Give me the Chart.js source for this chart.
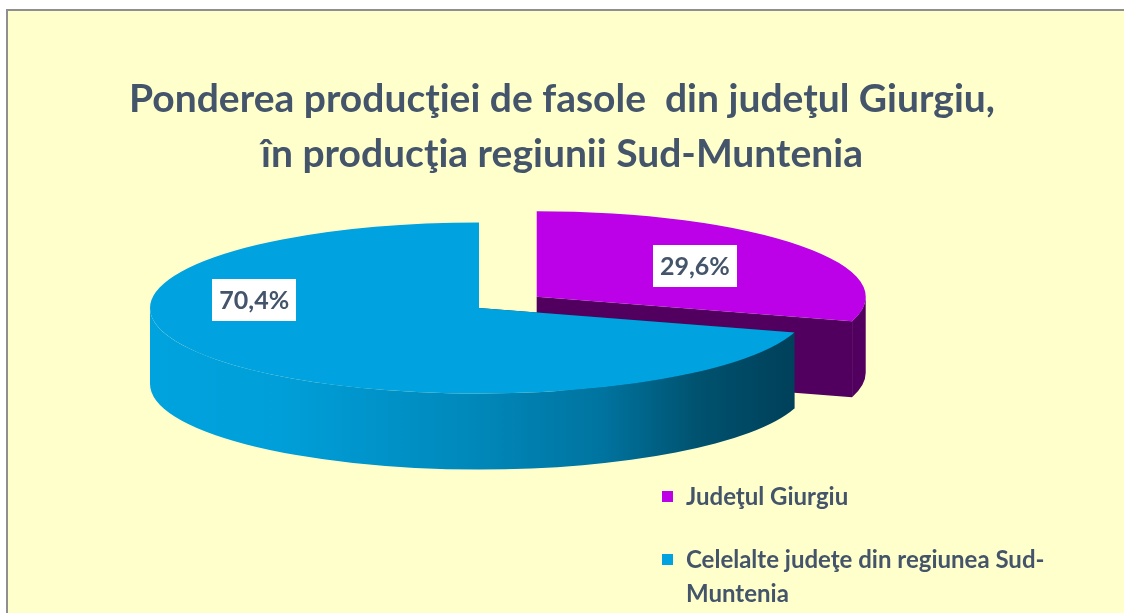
<!DOCTYPE html>
<html>
<head>
<meta charset="utf-8">
<script src="https://cdn.jsdelivr.net/npm/chart.js@4.4.0/dist/chart.umd.min.js"></script>
<style>
    html, body { margin: 0; padding: 0; background: #ffffff; }
    #frame {
        position: absolute; left: 6px; top: 9px; right: 0; bottom: 0;
        background: #FFFFCC;
        border-left: 2px solid #8f8f8f;
        border-top: 2px solid #8f8f8f;
    }
    #wrap { position: absolute; left: 0; top: 0; width: 1124px; height: 613px; }
</style>
</head>
<body>
<div id="frame"></div>
<div id="wrap"><canvas id="pie" width="1124" height="613"></canvas></div>
<script>
// Chart data
const categories = ['Judeţul Giurgiu', 'Celelalte judeţe din regiunea Sud-Muntenia'];
const shares = [29.6, 70.4];
const valueLabels = ['29,6%', '70,4%'];
const titleLines = ['Ponderea producţiei de fasole  din judeţul Giurgiu,', 'în producţia regiunii Sud-Muntenia'];

const topColors = ['#BC00E8', '#00A2DF'];
const TEXT = '#44546A';
const FONT = 'Lato, "Open Sans", sans-serif';

// Geometry of one slice after tilt and explosion
function sliceFrame(arc, i, o) {
    const mid = (arc.startAngle + arc.endAngle) / 2;
    const ex = o.explode[i] || 0;
    return {
        cx: o.center.x + Math.cos(mid) * ex,
        cy: o.center.y + Math.sin(mid) * ex * o.tilt,
        rx: arc.outerRadius,
        ry: arc.outerRadius * o.tilt
    };
}

// Front half (0..PI) part of an angle range
function frontPart(s, e) {
    for (const base of [0, 2 * Math.PI, -2 * Math.PI]) {
        const a = Math.max(s, base), b = Math.min(e, base + Math.PI);
        if (b > a) return [a, b];
    }
    return null;
}

function sideFill(ctx, i, f, a, b) {
    if (i === 1) {
        const x0 = f.cx + Math.cos(b) * f.rx, x1 = f.cx + Math.cos(a) * f.rx;
        const g = ctx.createLinearGradient(x0, 0, x1, 0);
        g.addColorStop(0, '#00A3DE');
        g.addColorStop(0.2, '#009FD9');
        g.addColorStop(0.5, '#0088BA');
        g.addColorStop(0.7, '#0074A0');
        g.addColorStop(0.85, '#00526F');
        g.addColorStop(1, '#00405A');
        return g;
    }
    return '#52005F';
}

const pie3d = {
    id: 'pie3d',
    beforeDatasetsDraw(chart, args, o) {
        const ctx = chart.ctx;
        const arcs = chart.getDatasetMeta(0).data;
        const depth = o.depth;

        // side faces, back slice first
        arcs.forEach((arc, i) => {
            const f = sliceFrame(arc, i, o);
            [arc.startAngle, arc.endAngle].forEach(a => {
                const px = f.cx + Math.cos(a) * f.rx, py = f.cy + Math.sin(a) * f.ry;
                ctx.beginPath();
                ctx.moveTo(f.cx, f.cy);
                ctx.lineTo(px, py);
                ctx.lineTo(px, py + depth);
                ctx.lineTo(f.cx, f.cy + depth);
                ctx.closePath();
                ctx.fillStyle = o.edgeColors[i];
                ctx.fill();
            });
            const part = frontPart(arc.startAngle, arc.endAngle);
            if (part) {
                const [a, b] = part;
                ctx.beginPath();
                ctx.ellipse(f.cx, f.cy, f.rx, f.ry, 0, a, b);
                ctx.lineTo(f.cx + Math.cos(b) * f.rx, f.cy + Math.sin(b) * f.ry + depth);
                ctx.ellipse(f.cx, f.cy + depth, f.rx, f.ry, 0, b, a, true);
                ctx.closePath();
                ctx.fillStyle = sideFill(ctx, i, f, a, b);
                ctx.fill();
            }
        });

        // top faces, drawn by the arc elements themselves
        arcs.forEach((arc, i) => {
            const f = sliceFrame(arc, i, o);
            ctx.save();
            ctx.translate(f.cx, f.cy);
            ctx.scale(1, o.tilt);
            ctx.translate(-arc.x, -arc.y);
            arc.draw(ctx);
            ctx.restore();
        });

        // value labels in white boxes
        ctx.save();
        ctx.font = 'bold 25px ' + FONT;
        ctx.textAlign = 'center';
        ctx.textBaseline = 'middle';
        arcs.forEach((arc, i) => {
            const f = sliceFrame(arc, i, o);
            const ang = o.labelAngles[i] != null ? o.labelAngles[i] * Math.PI / 180 : (arc.startAngle + arc.endAngle) / 2;
            const r = o.labelRadius[i];
            const lx = f.cx + Math.cos(ang) * f.rx * r;
            const ly = f.cy + Math.sin(ang) * f.ry * r;
            ctx.fillStyle = '#ffffff';
            ctx.fillRect(Math.round(lx - 42), Math.round(ly - 21), 84, 42);
            ctx.fillStyle = TEXT;
            ctx.fillText(valueLabels[i], lx, ly + 1);
        });
        ctx.restore();
        return false;
    },
    afterDraw(chart, args, o) {
        // legend at the lower right
        const ctx = chart.ctx;
        const lg = o.legend;
        ctx.save();
        ctx.font = 'bold 24px ' + FONT;
        ctx.textBaseline = 'middle';
        let y = lg.y;
        chart.data.labels.forEach((label, i) => {
            ctx.fillStyle = chart.data.datasets[0].backgroundColor[i];
            ctx.fillRect(lg.x, y - 6, 11, 11);
            // wrap on spaces and after hyphens
            const words = label.replace(/-/g, '-\u0000').split(/ |\u0000/);
            const lines = [];
            let line = '';
            words.forEach(w => {
                const sep = line === '' || line.endsWith('-') ? '' : ' ';
                const test = line + sep + w;
                if (line !== '' && ctx.measureText(test).width > lg.maxWidth) {
                    lines.push(line);
                    line = w;
                } else {
                    line = test;
                }
            });
            lines.push(line);
            ctx.fillStyle = TEXT;
            lines.forEach((t, j) => ctx.fillText(t, lg.x + 24, y + j * lg.lineHeight));
            y += (lines.length - 1) * lg.lineHeight + lg.itemGap;
        });
        ctx.restore();
    }
};

const ctx = document.getElementById('pie').getContext('2d');

new Chart(ctx, {
    type: 'pie',
    data: {
        labels: categories,
        datasets: [{
            data: shares,
            backgroundColor: topColors,
            borderWidth: 0,
            radius: 329
        }]
    },
    options: {
        responsive: false,
        animation: false,
        events: [],
        plugins: {
            legend: { display: false },
            tooltip: { enabled: false },
            title: {
                display: true,
                text: titleLines,
                color: TEXT,
                font: { family: FONT, weight: 'bold', size: 39, lineHeight: 1.41 },
                padding: { top: 72, bottom: 0 }
            },
            pie3d: {
                center: { x: 479, y: 308 },
                tilt: 0.26,
                depth: 76,
                explode: [72, 0],
                edgeColors: ['#52005F', '#003F58'],
                labelAngles: [null, 188],
                labelRadius: [0.6, 0.69],
                legend: { x: 662, y: 497, maxWidth: 400, lineHeight: 34, itemGap: 63 }
            }
        }
    },
    plugins: [pie3d]
});
</script>
</body>
</html>
